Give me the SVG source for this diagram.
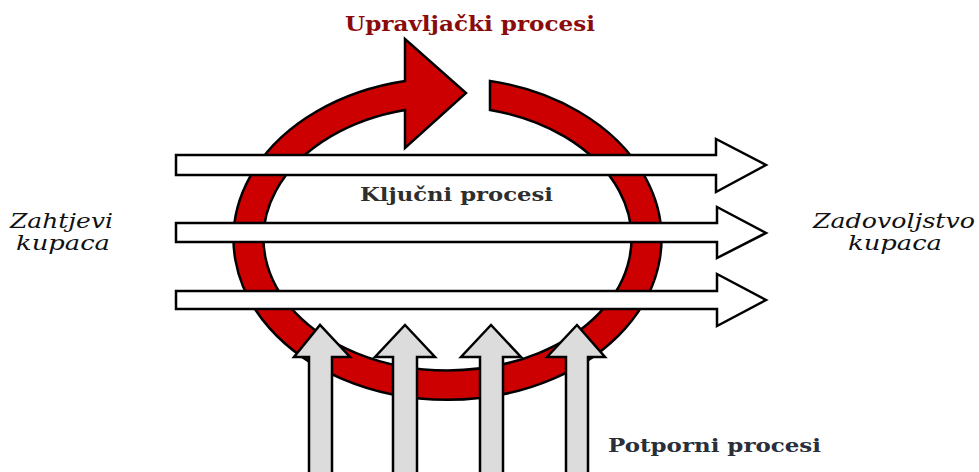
<svg xmlns="http://www.w3.org/2000/svg" width="979" height="472" viewBox="0 0 979 472">
<style>
.ring{fill:#cc0000;stroke:#000;stroke-width:2.5;stroke-linejoin:miter}
.harrow{fill:#fff;stroke:#000;stroke-width:2.5}
.varrow{fill:#dcdcdc;stroke:#000;stroke-width:2.5}
.bold{font-family:"DejaVu Serif","Liberation Serif",serif;font-weight:bold}
.ital{font-family:"DejaVu Serif","Liberation Serif",serif;font-style:italic;font-size:21px;fill:#111}
</style>
<rect width="979" height="472" fill="#fff"/>
<g id="upravljacki-ring">
<path class="ring" d="M490,81 A214,161 0 1 1 405,81 L405,39 L466,93 L405,148 L405,110 A184,132 0 1 0 490,110 Z"/>
</g>
<g id="connectors">
<g id="kljucni-arrows">
<path class="harrow" d="M176,155 H716 V139 L766,165 L716,192 V175 H176 Z"/>
<path class="harrow" d="M176,223 H717 V207 L766,233 L717,258 V242 H176 Z"/>
<path class="harrow" d="M176,291 H717 V274 L766,300 L717,326 V309 H176 Z"/>
</g>
<g id="potporni-arrows">
<path class="varrow" d="M309,480 V357 H294 L320,325 L350,357 H332 V480 Z"/>
<path class="varrow" d="M393,480 V357 H375 L405,325 L435,357 H417 V480 Z"/>
<path class="varrow" d="M480,480 V357 H461 L491,325 L521,357 H503 V480 Z"/>
<path class="varrow" d="M566,480 V357 H547 L577,325 L605,357 H588 V480 Z"/>
</g>
</g>
<g id="label-upravljacki">
<text class="bold" x="345" y="31" font-size="20" fill="#8b0a0a" textLength="250" lengthAdjust="spacingAndGlyphs">Upravljački procesi</text>
</g>
<g id="label-kljucni">
<text class="bold" x="360" y="201" font-size="19" fill="#2e2e2e" textLength="193" lengthAdjust="spacingAndGlyphs">Ključni procesi</text>
</g>
<g id="label-potporni">
<text class="bold" x="608" y="452" font-size="19" fill="#2a2f3a" textLength="213" lengthAdjust="spacingAndGlyphs">Potporni procesi</text>
</g>
<g id="label-zahtjevi">
<text class="ital" x="10" y="228" textLength="103" lengthAdjust="spacingAndGlyphs">Zahtjevi</text>
<text class="ital" x="16" y="250" textLength="94" lengthAdjust="spacingAndGlyphs">kupaca</text>
</g>
<g id="label-zadovoljstvo">
<text class="ital" x="813" y="228" textLength="162" lengthAdjust="spacingAndGlyphs">Zadovoljstvo</text>
<text class="ital" x="848" y="250" textLength="94" lengthAdjust="spacingAndGlyphs">kupaca</text>
</g>
</svg>
